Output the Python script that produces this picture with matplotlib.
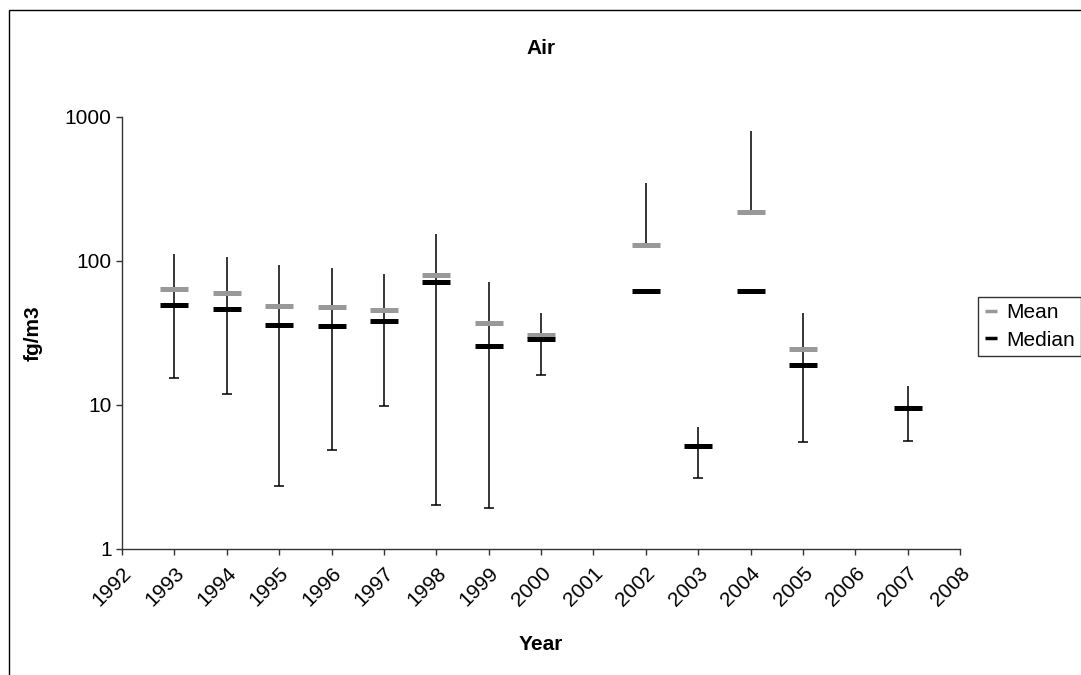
import numpy as np
import matplotlib
matplotlib.use("Agg")
import matplotlib.pyplot as plt
from matplotlib.patches import Rectangle

plt.rcParams['font.family'] = ['Liberation Sans', 'DejaVu Sans']

# yearly air concentrations, fg/m3
years = [1993, 1994, 1995, 1996, 1997, 1998, 1999, 2000, 2002, 2003, 2004, 2005, 2007]
means = [64, 60, 48.7, 47.7, 45.7, 79.6, 36.9, 30.6, 130, np.nan, 218, 24.5, np.nan]
medians = [49.7, 46.6, 36.1, 35.4, 38.5, 71.5, 25.7, 28.6, 61.5, 5.2, 61.5, 18.9, 9.6]
maxima = [112, 107, 94, 90, 81, 153, 71, 43.8, 346, 7.07, 800, 43.3, 13.6]
minima = [15.4, 11.9, 2.72, 4.84, 9.84, 2.02, 1.94, 16.2, np.nan, 3.11, np.nan, 5.53, 5.65]
year_ticks = list(range(1992, 2009))

fs = 15
fig = plt.figure(figsize=(10.81, 6.75), dpi=100)
ax = fig.add_axes([122 / 1081, 1 - 549 / 675, (960 - 122) / 1081, (549 - 117) / 675])

# outer chart border (runs off the right and bottom edges)
fig.patches.append(Rectangle((8.5 / 1081, -0.1), 1.2, 1 - 9.5 / 675 + 0.1,
                             transform=fig.transFigure, fill=False,
                             edgecolor='black', linewidth=1.0))

# whiskers: from the minimum (or the mean where no minimum) up to the maximum
for x, lo, hi, mn in zip(years, minima, maxima, means):
    bottom = mn if np.isnan(lo) else lo
    ax.vlines(x, bottom, hi, color='black', linewidth=1.1, zorder=2)
    if not np.isnan(lo):
        ax.plot(x, lo, marker='_', markersize=7.5, markeredgewidth=1.1,
                color='black', zorder=2)

ax.plot(years, means, linestyle='none', marker='_', markersize=19.5,
        markeredgewidth=3.6, color='#999999', label='Mean', zorder=3)
ax.plot(years, medians, linestyle='none', marker='_', markersize=19.5,
        markeredgewidth=3.6, color='black', label='Median', zorder=4)

ax.set_yscale('log')
ax.set_ylim(1, 1000)
ax.set_xlim(1992, 2008)
ax.set_yticks([1, 10, 100, 1000])
ax.set_yticklabels(['1', '10', '100', '1000'])
ax.yaxis.set_minor_locator(matplotlib.ticker.NullLocator())
ax.set_xticks(year_ticks)
ax.set_xticklabels([str(y) for y in year_ticks], rotation=45, ha='right',
                   rotation_mode='anchor')

for side in ['top', 'right']:
    ax.spines[side].set_visible(False)
for side in ['left', 'bottom']:
    ax.spines[side].set_color('#333333')
    ax.spines[side].set_linewidth(1.0)
ax.tick_params(axis='both', direction='out', length=4.5, width=1.0,
               color='#333333', labelsize=fs, pad=3)
ax.tick_params(axis='x', pad=6)

ax.set_title('Air', fontsize=fs, fontweight='bold', pad=45)
ax.set_xlabel('Year', fontsize=fs, fontweight='bold', labelpad=18)
ax.set_ylabel('fg/m3', fontsize=fs, fontweight='bold', labelpad=16)

leg = ax.legend(loc='upper left', bbox_to_anchor=(978 / 1081, 1 - 297 / 675),
                bbox_transform=fig.transFigure, borderaxespad=0,
                fontsize=fs, frameon=True, fancybox=False, handlelength=0.65,
                handletextpad=0.4, borderpad=0.3, labelspacing=0.4)
leg.get_frame().set_edgecolor('black')
leg.get_frame().set_linewidth(1.0)
for h in leg.legend_handles:
    h.set_markersize(9)
    h.set_markeredgewidth(2.5)

fig.savefig('out.png', dpi=100)
